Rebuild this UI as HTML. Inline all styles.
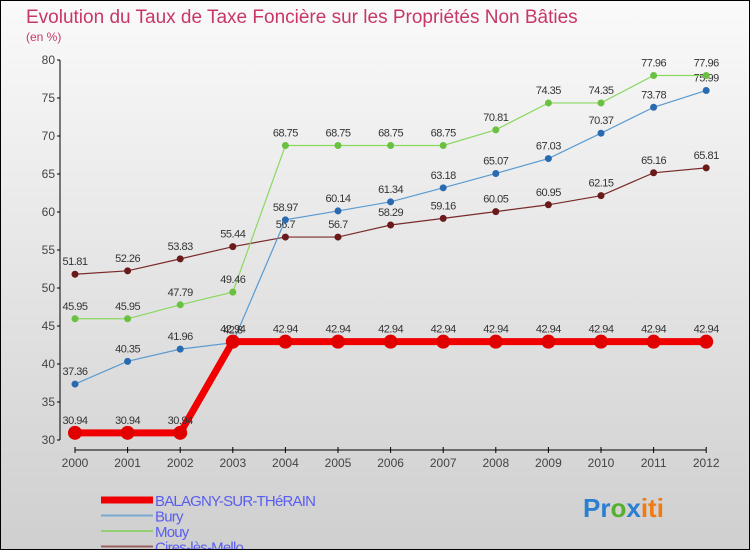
<!DOCTYPE html>
<html><head><meta charset="utf-8"><style>
body{margin:0}
#c{width:748px;height:548px;border:1px solid #000;background:linear-gradient(#fafafa,#cfcfcf);position:relative;font-family:"Liberation Sans",sans-serif;overflow:hidden}
text{font-family:"Liberation Sans",sans-serif}
</style></head><body>
<div id="c">
<svg id="s" width="748" height="548">
<text x="25" y="22" font-size="19" fill="#c8366a">Evolution du Taux de Taxe Foncière sur les Propriétés Non Bâties</text>
<text x="25" y="40" font-size="12" fill="#c8366a">(en %)</text>
<g id="axes"></g><g id="series"></g><g id="legend"></g>
<text x="582" y="516" font-size="26" font-weight="bold"><tspan fill="#2a7fd0">Pr</tspan><tspan fill="#55b030">o</tspan><tspan fill="#2a7fd0">x</tspan><tspan fill="#f07b10">iti</tspan></text>
</svg></div>
<script>
const years=[2000,2001,2002,2003,2004,2005,2006,2007,2008,2009,2010,2011,2012];
const yTicks=[30,35,40,45,50,55,60,65,70,75,80];
const balagny=[30.94,30.94,30.94,42.94,42.94,42.94,42.94,42.94,42.94,42.94,42.94,42.94,42.94];
const bury=[37.36,40.35,41.96,42.8,58.97,60.14,61.34,63.18,65.07,67.03,70.37,73.78,75.99];
const mouy=[45.95,45.95,47.79,49.46,68.75,68.75,68.75,68.75,70.81,74.35,74.35,77.96,77.96];
const cires=[51.81,52.26,53.83,55.44,56.7,56.7,58.29,59.16,60.05,60.95,62.15,65.16,65.81];
const seriesNames=["BALAGNY-SUR-THéRAIN","Bury","Mouy","Cires-lès-Mello"];
const NS="http://www.w3.org/2000/svg";
const X=i=>74+i*52.6, Y=v=>439-(v-30)*7.6;
function mk(t,a,p){const e=document.createElementNS(NS,t);for(const k in a)e.setAttribute(k,a[k]);p.appendChild(e);return e;}
const ax=document.getElementById('axes');
let l=mk('line',{x1:59,y1:Y(80),x2:59,y2:Y(30),stroke:'#000'},ax);
yTicks.forEach(v=>{mk('line',{x1:56,x2:59,y1:Y(v),y2:Y(v),stroke:'#000'},ax);
 let t=mk('text',{x:54,y:Y(v)+4,'text-anchor':'end','font-size':12,fill:'#444'},ax);t.textContent=v;
 });
l=mk('line',{x1:X(0),y1:449,x2:X(12),y2:449,stroke:'#000'},ax);
years.forEach((y,i)=>{mk('line',{x1:X(i),x2:X(i),y1:446,y2:452,stroke:'#000'},ax);
 let t=mk('text',{x:X(i),y:466,'text-anchor':'middle','font-size':12,fill:'#444'},ax);t.textContent=y;
 });
const sg=document.getElementById('series');
const defs=[[cires,'#7a2a2a','#6a1a1a',1.2,3.5],[bury,'#5a9ad0','#2a6ab0',1.2,3.5],[mouy,'#8ad860','#6ac040',1.2,3.5],[balagny,'#f00000','#e00000',7,7]];
defs.forEach((d,si)=>{const g=mk('g',{},sg);
 const p=mk('polyline',{points:d[0].map((v,i)=>X(i)+','+Y(v)).join(' '),fill:'none',stroke:d[1],'stroke-width':d[3]},g);
 
 d[0].forEach((v,i)=>{const c=mk('circle',{cx:X(i),cy:Y(v),r:d[4],fill:d[2]},g);
  const t=mk('text',{x:X(i),y:Y(v)-9,'text-anchor':'middle','font-size':11,fill:'#333','letter-spacing':'-0.5'},g);t.textContent=v.toFixed(2).replace(/0$/,'').replace(/\.$/,'');
  });});
const lg=document.getElementById('legend');
const lc=[['#f00000',7],['#7aaad0',2],['#90d070',2],['#9a6060',2]];
seriesNames.forEach((n,i)=>{const y=503+i*15.5;
 const ln=mk('line',{x1:100,x2:152,y1:y-4,y2:y-4,stroke:lc[i][0],'stroke-width':lc[i][1]},lg);
 const t=mk('text',{x:154,y:y+2,'font-size':15,fill:'#5a5ef0','letter-spacing':'-0.8'},lg);t.textContent=n;
 });
</script></body></html>
